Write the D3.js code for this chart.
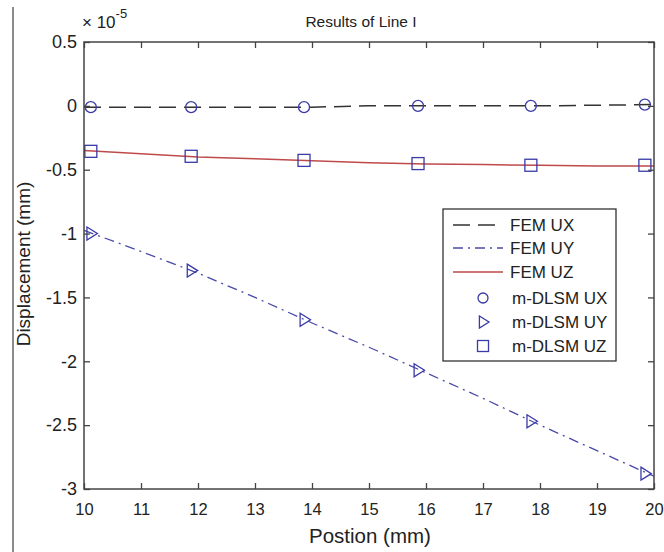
<!DOCTYPE html>
<html>
<head>
<meta charset="utf-8">
<script src="https://cdn.jsdelivr.net/npm/d3@7"></script>
<style>
  body { margin: 0; background: #fff; }
  text { font-family: Arial, "Liberation Sans", sans-serif; fill: #222; }
</style>
</head>
<body>
<div id="chart"></div>
<script>
var width = 664, height = 552;

// data (units of 1e-5 mm)
var femX  = [10, 11, 12, 13, 14, 15, 16, 17, 18, 19, 20];
var femUX = [-0.01, -0.01, -0.01, -0.01, -0.01, 0, 0, 0, 0, 0.005, 0.01];
var femUY = [-0.975, -1.14, -1.31, -1.50, -1.70, -1.89, -2.09, -2.29, -2.50, -2.70, -2.90];
var femUZ = [-0.35, -0.375, -0.40, -0.415, -0.43, -0.445, -0.455, -0.46, -0.465, -0.47, -0.47];

var dlsmX  = [10.12, 11.88, 13.86, 15.86, 17.84, 19.84];
var dlsmUX = [-0.01, -0.01, -0.01, 0, 0, 0.01];
var dlsmUY = [-1.0, -1.29, -1.675, -2.07, -2.47, -2.88];
var dlsmUZ = [-0.356, -0.395, -0.427, -0.452, -0.465, -0.465];

var xTicks = [10, 11, 12, 13, 14, 15, 16, 17, 18, 19, 20];
var yTicks = [0.5, 0, -0.5, -1, -1.5, -2, -2.5, -3];
var legendLabels = ["FEM UX", "FEM UY", "FEM UZ", "m-DLSM UX", "m-DLSM UY", "m-DLSM UZ"];

var margin = {left: 84, top: 42, right: 10, bottom: 63};
var plotW = width - margin.left - margin.right;
var plotH = height - margin.top - margin.bottom;

var svg = d3.select("#chart").append("svg")
  .attr("width", width)
  .attr("height", height);

// left border line of the page
svg.append("line")
  .attr("x1", 13).attr("x2", 13)
  .attr("y1", 7).attr("y2", height)
  .attr("stroke", "#666").attr("stroke-width", 1.5);

var xScale = d3.scaleLinear().domain([10, 20]).range([0, plotW]);
var yScale = d3.scaleLinear().domain([-3, 0.5]).range([plotH, 0]);

var g = svg.append("g").attr("transform", "translate(" + margin.left + "," + margin.top + ")");

var markColor = "#3a3aa8";

// lines
var line = d3.line()
  .x(function(d) { return xScale(d[0]); })
  .y(function(d) { return yScale(d[1]); });

function pairs(xs, ys) { return xs.map(function(x, i) { return [x, ys[i]]; }); }

g.append("path").datum(pairs(femX, femUX))
  .attr("d", line).attr("fill", "none")
  .attr("stroke", "#333").attr("stroke-width", 1.5)
  .attr("stroke-dasharray", "17,8");

g.append("path").datum(pairs(femX, femUY))
  .attr("d", line).attr("fill", "none")
  .attr("stroke", "#4a4aa8").attr("stroke-width", 1.3)
  .attr("stroke-dasharray", "10,5,2,5");

g.append("path").datum(pairs(femX, femUZ))
  .attr("d", line).attr("fill", "none")
  .attr("stroke", "#bf4a4a").attr("stroke-width", 1.5);

// markers
g.selectAll(".mux").data(pairs(dlsmX, dlsmUX)).enter().append("circle")
  .attr("cx", function(d) { return xScale(d[0]); })
  .attr("cy", function(d) { return yScale(d[1]); })
  .attr("r", 5.5)
  .attr("fill", "none").attr("stroke", markColor).attr("stroke-width", 1.3);

var triangle = function(cx, cy, s) {
  return "M" + (cx - s * 0.6) + "," + (cy - s) + "L" + (cx + s) + "," + cy + "L" + (cx - s * 0.6) + "," + (cy + s) + "Z";
};

g.selectAll(".muy").data(pairs(dlsmX, dlsmUY)).enter().append("path")
  .attr("d", function(d) { return triangle(xScale(d[0]), yScale(d[1]), 6.5); })
  .attr("fill", "none").attr("stroke", markColor).attr("stroke-width", 1.3);

g.selectAll(".muz").data(pairs(dlsmX, dlsmUZ)).enter().append("rect")
  .attr("x", function(d) { return xScale(d[0]) - 6; })
  .attr("y", function(d) { return yScale(d[1]) - 6; })
  .attr("width", 12).attr("height", 12)
  .attr("fill", "none").attr("stroke", markColor).attr("stroke-width", 1.3);

// frame
g.append("rect")
  .attr("x", 0).attr("y", 0)
  .attr("width", plotW).attr("height", plotH)
  .attr("fill", "none").attr("stroke", "#444").attr("stroke-width", 1.5);

// axes (ticks inward)
var xAxis = g.append("g").attr("transform", "translate(0," + plotH + ")")
  .call(d3.axisBottom(xScale).tickValues(xTicks).tickSize(-6).tickPadding(14).tickFormat(d3.format("d")));
var xAxisTop = g.append("g")
  .call(d3.axisTop(xScale).tickValues(xTicks).tickSize(-6).tickFormat(""));
var yAxis = g.append("g")
  .call(d3.axisLeft(yScale).tickValues(yTicks).tickSize(-6).tickPadding(7).tickFormat(function(d) { return d3.format("")(d).replace("\u2212", "-"); }));
var yAxisRight = g.append("g").attr("transform", "translate(" + plotW + ",0)")
  .call(d3.axisRight(yScale).tickValues(yTicks).tickSize(-6).tickFormat(""));

[xAxis, xAxisTop, yAxis, yAxisRight].forEach(function(a) {
  a.select(".domain").remove();
  a.selectAll(".tick line").attr("stroke", "#444").attr("stroke-width", 1.3);
  a.selectAll(".tick text").attr("fill", "#222")
    .style("font-family", "Arial, 'Liberation Sans', sans-serif");
});
xAxis.selectAll(".tick text").style("font-size", "16.5px");
yAxis.selectAll(".tick text").style("font-size", "18px");

// title and labels
svg.append("text")
  .attr("x", 361).attr("y", 27)
  .style("font-size", "15.5px")
  .style("text-anchor", "middle")
  .text("Results of Line I");

var expo = svg.append("text")
  .attr("x", 82).attr("y", 28)
  .style("font-size", "17px");
expo.append("tspan").text("\u00d7 10");
expo.append("tspan").attr("dy", -10).style("font-size", "13px").text("-5");

svg.append("text")
  .attr("x", 370).attr("y", 543)
  .style("font-size", "20.5px")
  .style("text-anchor", "middle")
  .text("Postion (mm)");

svg.append("text")
  .attr("transform", "translate(30,264) rotate(-90)")
  .style("font-size", "19px")
  .style("text-anchor", "middle")
  .text("Displacement (mm)");

// legend
var legend = svg.append("g").attr("transform", "translate(443,209)");
legend.append("rect")
  .attr("width", 173).attr("height", 152)
  .attr("fill", "#fff").attr("stroke", "#333").attr("stroke-width", 1.3);

var legY = [16, 39, 63, 89, 113, 137];
var lineStyles = [
  {stroke: "#333", dash: "17,8"},
  {stroke: "#4a4aa8", dash: "10,5,2,5"},
  {stroke: "#bf4a4a", dash: null}
];

lineStyles.forEach(function(s, i) {
  legend.append("line")
    .attr("x1", 10).attr("x2", 60)
    .attr("y1", legY[i]).attr("y2", legY[i])
    .attr("stroke", s.stroke).attr("stroke-width", 1.5)
    .attr("stroke-dasharray", s.dash);
});

legend.append("circle").attr("cx", 40).attr("cy", legY[3]).attr("r", 5)
  .attr("fill", "none").attr("stroke", markColor).attr("stroke-width", 1.3);
legend.append("path").attr("d", triangle(40, legY[4], 6))
  .attr("fill", "none").attr("stroke", markColor).attr("stroke-width", 1.3);
legend.append("rect").attr("x", 34.5).attr("y", legY[5] - 5.5).attr("width", 11).attr("height", 11)
  .attr("fill", "none").attr("stroke", markColor).attr("stroke-width", 1.3);

legendLabels.forEach(function(t, i) {
  legend.append("text")
    .attr("x", i < 3 ? 67 : 69).attr("y", legY[i] + 6)
    .style("font-size", "17px")
    .text(t);
});
</script>
</body>
</html>
